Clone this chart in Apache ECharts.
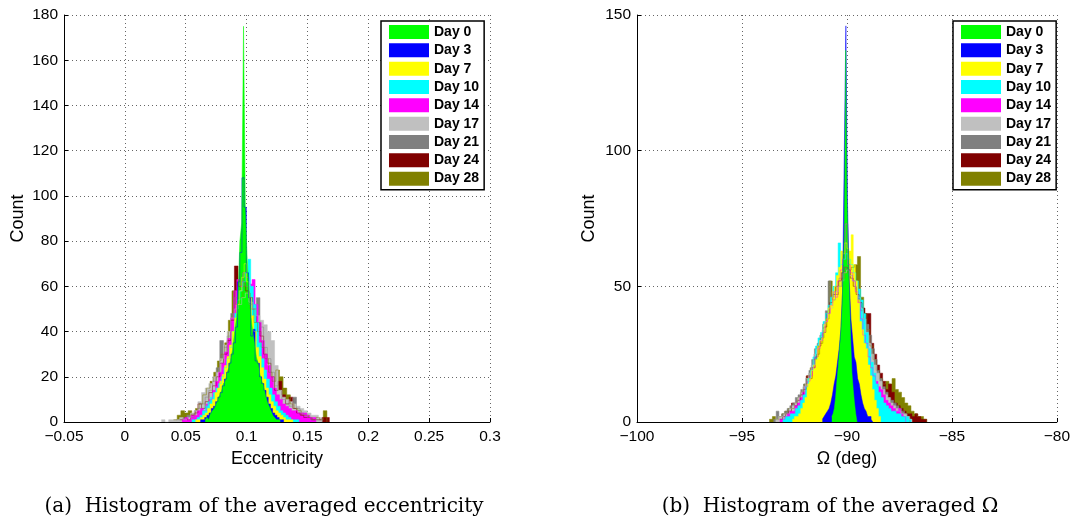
<!DOCTYPE html>
<html><head><meta charset="utf-8">
<script src="https://cdn.jsdelivr.net/npm/echarts@6/dist/echarts.min.js"></script>
<style>html,body{margin:0;padding:0;background:#fff}#c{width:1073px;height:521px}</style>
</head><body><div id="c"></div>
<script>
const dayNames = ['Day 0','Day 3','Day 7','Day 10','Day 14','Day 17','Day 21','Day 24','Day 28'];
const dayColors = ['#00ff00','#0000ff','#ffff00','#00ffff','#ff00ff','#c0c0c0','#808080','#800000','#808000'];

// ---- Panel (a): eccentricity histograms (bin start, bin width, counts) ----
const eccBinStart = [0.066, 0.062, 0.058, 0.055, 0.047, 0.030, 0.042, 0.045, 0.040];
const eccBinWidth = [0.0015, 0.0018, 0.002, 0.0022, 0.0025, 0.003, 0.003, 0.003, 0.003];
const eccDay0  = [1,2,1,4,5,6,8,10,12,14,17,18,22,24,28,32,39,45,55,80,88,175,93,72,58,47,40,35,29,26,21,18,16,12,9,7,5,3,2,1,1];
const eccDay3  = [1,1,2,3,4,6,7,9,11,13,16,19,22,26,30,35,42,62,75,108,95,66,55,38,41,27,26,20,17,14,11,8,6,4,3,2,1,1];
const eccDay7  = [1,1,2,3,4,6,8,10,13,15,18,21,25,29,34,40,46,52,58,64,70,62,55,47,40,33,29,24,19,15,12,9,7,5,4,3,2,1,1,1];
const eccDay10 = [1,1,2,3,5,7,9,11,13,15,17,20,24,28,33,40,48,54,58,62,66,72,60,52,44,35,28,23,19,15,12,9,7,5,4,3,2,1,1,1];
const eccDay14 = [1,2,1,3,3,5,6,5,8,10,14,18,22,26,31,37,46,58,63,60,66,64,61,63,52,44,36,30,25,20,15,12,10,8,7,6,5,5,4,4,4,3,2,2];
const eccDay17 = [1,0,1,1,1,2,1,2,4,5,9,13,15,17,20,22,28,34,40,46,50,52,55,57,53,50,47,45,43,40,36,25,14,11,10,9,8,7,6,5,4,3,3,2];
const eccDay21 = [1,1,2,3,2,5,6,8,11,14,18,24,36,33,38,48,55,58,62,60,52,50,55,42,33,28,22,16,14,10,8,7,11,6,4,3,2,1,1,1];
const eccDay24 = [1,2,1,3,4,8,6,9,13,16,20,26,30,36,45,69,60,62,58,55,50,44,38,30,26,20,14,18,12,8,11,6,4,3,2,2,1,1,1,2,2];
const eccDay28 = [1,3,5,4,5,3,6,8,12,15,18,22,27,30,35,45,58,52,55,60,57,50,44,40,33,28,22,18,23,20,15,12,8,6,5,3,3,2,1,2,1,5];
const eccCounts = [eccDay0,eccDay3,eccDay7,eccDay10,eccDay14,eccDay17,eccDay21,eccDay24,eccDay28];

// ---- Panel (b): Omega histograms (deg) ----
const raanBinStart = [-90.72, -91.17, -92.6, -93.06, -93.2, -93.4, -93.5, -93.2, -93.7];
const raanBinWidth = [0.06, 0.08, 0.1, 0.12, 0.12, 0.13, 0.13, 0.14, 0.15];
const raanDay0  = [2,3,5,9,15,20,26,32,41,54,70,137,82,64,45,30,18,12,7,3];
const raanDay3  = [1,2,3,4,5,7,10,14,17,22,27,34,48,96,146,80,52,38,31,24,22,16,14,10,7,5,4,2,2,1];
const raanDay7  = [1,2,2,3,5,7,9,14,16,19,21,23,28,30,31,36,38,42,43,48,50,54,57,63,62,66,64,63,69,58,52,45,37,34,29,27,21,17,12,8,5,2];
const raanDay10 = [1,2,2,3,3,5,6,8,10,13,16,19,24,28,31,33,37,40,43,46,50,55,66,58,60,62,60,58,55,52,49,45,40,33,27,22,18,14,11,9,7,6,5,4,4,3,3,2,2,2,1];
const raanDay14 = [1,1,2,3,4,4,6,7,9,11,13,15,17,20,24,27,30,33,37,40,43,48,46,52,56,60,73,58,55,52,48,44,38,32,29,24,20,17,15,13,12,10,8,7,6,5,4,5,3,2];
const raanDay17 = [1,2,2,3,3,5,6,7,9,11,13,16,18,21,25,27,30,34,37,40,42,45,48,50,52,55,56,54,52,50,46,42,38,33,29,25,21,18,15,12,10,9,7,6,5,4,3,3,2,1];
const raanDay21 = [1,4,2,3,4,5,6,7,9,10,12,14,16,19,23,27,29,32,36,41,52,46,48,50,53,55,57,56,54,52,49,45,41,38,36,32,27,23,19,16,13,11,9,8,7,6,5,4,3,2];
const raanDay24 = [1,2,3,4,7,6,8,10,12,17,16,20,24,28,31,35,40,44,47,50,52,55,57,56,53,50,47,44,42,40,40,29,25,21,18,15,12,14,11,7,6,5,4,3,3,2,3,2,1,1];
const raanDay28 = [1,2,1,2,3,4,5,5,7,9,11,14,17,20,23,25,29,33,38,52,45,47,50,53,55,56,57,58,61,46,40,34,28,23,19,16,14,15,14,16,12,11,9,7,6,4,3,2,2,1];
const raanCounts = [raanDay0,raanDay3,raanDay7,raanDay10,raanDay14,raanDay17,raanDay21,raanDay24,raanDay28];

const captionA = '(a)  Histogram of the averaged eccentricity';
const captionB = '(b)  Histogram of the averaged \u03A9';

function steps(start, width, counts) {
  const pts = counts.map((c, i) => [+(start + i * width).toFixed(6), c]);
  pts.push([+(start + counts.length * width).toFixed(6), 0]);
  return pts;
}
const FONT = '"Liberation Sans", Arial, Helvetica, sans-serif';
const fmt = v => String(+(+v).toFixed(4)).replace('-', '\u2212');

function xAx(idx, min, max, interval, name) {
  return {
    type: 'value', gridIndex: idx, min, max, interval,
    name, nameLocation: 'middle', nameGap: 25,
    nameTextStyle: {fontFamily: FONT, fontSize: 18, color: '#000'},
    axisLine: {show: true, onZero: false, lineStyle: {color: '#000', width: 1}},
    axisTick: {show: true, inside: true, length: 4, lineStyle: {color: '#000'}},
    axisLabel: {show: true, margin: 7, fontFamily: FONT, fontSize: 15.5, color: '#000', formatter: fmt, showMinLabel: true, showMaxLabel: true, hideOverlap: false},
    splitLine: {show: true, lineStyle: {color: '#666', width: 1, type: [1, 3]}}
  };
}
function yAx(idx, max, interval, gap) {
  return {
    type: 'value', gridIndex: idx, min: 0, max, interval,
    name: 'Count', nameLocation: 'middle', nameGap: gap, nameRotate: 90,
    nameTextStyle: {fontFamily: FONT, fontSize: 18, color: '#000'},
    axisLine: {show: true, onZero: false, lineStyle: {color: '#000', width: 1}},
    axisTick: {show: true, inside: true, length: 4, lineStyle: {color: '#000'}},
    axisLabel: {show: true, margin: 6, fontFamily: FONT, fontSize: 15.5, color: '#000', showMinLabel: true, showMaxLabel: true},
    splitLine: {show: true, lineStyle: {color: '#666', width: 1, type: [1, 3]}}
  };
}
function legendAt(left) {
  return {
    data: dayNames, orient: 'vertical', left, top: 21,
    icon: 'rect', itemWidth: 40, itemHeight: 14, itemGap: 4.33,
    padding: [4, 5, 4, 8], backgroundColor: '#fff',
    borderColor: '#000', borderWidth: 1.5, borderRadius: 0,
    selectedMode: false,
    textStyle: {fontFamily: FONT, fontWeight: 'bold', fontSize: 14, lineHeight: 14, color: '#000'}
  };
}

const series = [];
for (let k = dayNames.length - 1; k >= 0; k--) {
  series.push({name: dayNames[k], type: 'line', xAxisIndex: 0, yAxisIndex: 0, step: 'end', symbol: 'none', silent: true,
    data: steps(eccBinStart[k], eccBinWidth[k], eccCounts[k]),
    itemStyle: {color: dayColors[k]}, lineStyle: {width: 0.5, color: dayColors[k]},
    areaStyle: {color: dayColors[k], opacity: 1}});
}
for (let k = dayNames.length - 1; k >= 0; k--) {
  series.push({name: dayNames[k], type: 'line', xAxisIndex: 1, yAxisIndex: 1, step: 'end', symbol: 'none', silent: true,
    data: steps(raanBinStart[k], raanBinWidth[k], raanCounts[k]),
    itemStyle: {color: dayColors[k]}, lineStyle: {width: 0.5, color: dayColors[k]},
    areaStyle: {color: dayColors[k], opacity: 1}});
}

const chart = echarts.init(document.getElementById('c'), null, {renderer: 'canvas'});
chart.setOption({
  animation: false,
  backgroundColor: '#fff',
  grid: [
    {left: 64, top: 15, width: 426, height: 407},
    {left: 637, top: 15, width: 426, height: 407}
  ],
  xAxis: [xAx(0, -0.05, 0.3, 0.05, 'Eccentricity'), xAx(1, -100, -80, 5, '\u03A9 (deg)')],
  yAxis: [yAx(0, 180, 20, 37), yAx(1, 150, 50, 39)],
  legend: [legendAt(381), legendAt(953)],
  tooltip: {show: false},
  series,
  graphic: [
    {type: 'text', x: 264, y: 507, style: {text: captionA, x: 0, y: 0, fill: '#000', font: '20px "DejaVu Serif", "Liberation Serif", serif', textAlign: 'center', textVerticalAlign: 'middle'}},
    {type: 'text', x: 830, y: 507, style: {text: captionB, x: 0, y: 0, fill: '#000', font: '20px "DejaVu Serif", "Liberation Serif", serif', textAlign: 'center', textVerticalAlign: 'middle'}}
  ]
});
</script>
</body></html>
